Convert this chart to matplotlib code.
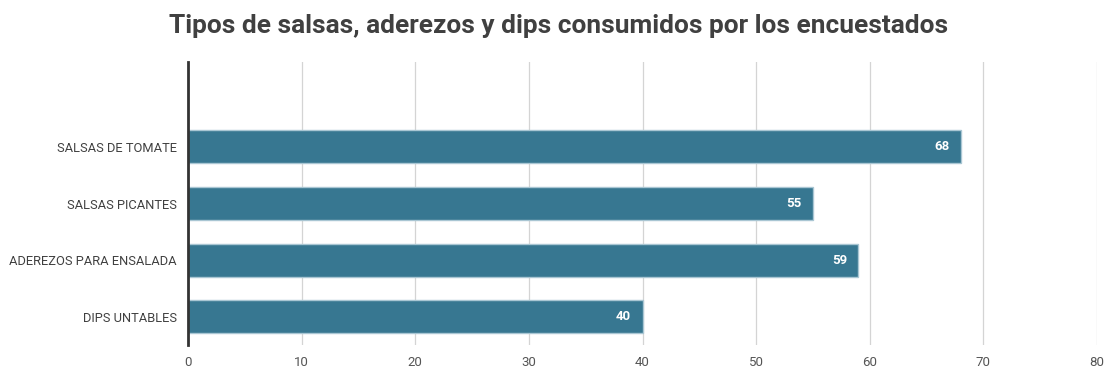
import matplotlib.pyplot as plt

categorias = ["SALSAS DE TOMATE", "SALSAS PICANTES", "ADEREZOS PARA ENSALADA", "DIPS UNTABLES"]
valores = [68, 55, 59, 40]
ticks_x = [0, 10, 20, 30, 40, 50, 60, 70, 80]

plt.rcParams['font.family'] = ['Roboto', 'DejaVu Sans']

fig = plt.figure(figsize=(11.04, 3.68), dpi=100)
ax = fig.add_axes([0.1703, 0.0625, 0.8234, 0.769])

# categorias de arriba hacia abajo
pos = list(range(len(categorias) - 1, -1, -1))
ax.barh(pos, valores, height=0.58, color="#377791", edgecolor="#a9c6d3", linewidth=1, zorder=2)

for p, v in zip(pos, valores):
    ax.text(v - 1.0, p, str(v), ha="right", va="center", color="white",
            fontsize=9.5, fontweight="bold", zorder=3)

ax.set_xlim(0, 80)
ax.set_ylim(-0.5, 4.5)
ax.set_xticks(ticks_x)
ax.set_yticks(pos)
ax.set_yticklabels(categorias, fontsize=9.3, color="#404040")
ax.tick_params(axis="x", labelsize=9.5, colors="#555555", length=0, pad=8)
ax.tick_params(axis="y", length=0, pad=8)
ax.xaxis.grid(True, color="#d4d4d4", linewidth=0.9, zorder=0)
ax.set_axisbelow(True)

for s in ["top", "right", "bottom"]:
    ax.spines[s].set_visible(False)
ax.spines["left"].set_color("#333333")
ax.spines["left"].set_linewidth(2)

fig.text(0.506, 0.93, "Tipos de salsas, aderezos y dips consumidos por los encuestados",
         ha="center", va="center", fontsize=18.9, fontweight="bold", color="#404040")

fig.savefig("out.png", dpi=100)
